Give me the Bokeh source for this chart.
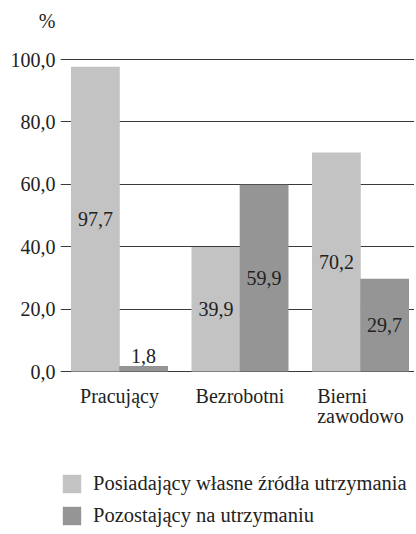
from bokeh.plotting import figure
from bokeh.models import ColumnDataSource, Range1d, FixedTicker, Legend, LegendItem, LabelSet
from bokeh.embed import file_html
from bokeh.resources import INLINE

categories = ["Pracujący", "Bezrobotni", "Bierni\nzawodowo"]
series_names = ["Posiadający własne źródła utrzymania", "Pozostający na utrzymaniu"]
own_income = [97.7, 39.9, 70.2]
dependent = [1.8, 59.9, 29.7]
y_ticks = [0, 20, 40, 60, 80, 100]
y_tick_labels = ["0,0", "20,0", "40,0", "60,0", "80,0", "100,0"]
unit_label = "%"
unit_pos = 112.5
y_bottom = -50.3

LIGHT = "#c3c3c3"
DARK = "#959595"
FONT = "Liberation Serif"
FS = "20px"
TXT = "#222222"

xs = list(range(len(categories)))

def fmt(v):
    return f"{v:.1f}".replace(".", ",")

def label_y(v):
    return v / 2 if v > 10 else v

def label_off(v):
    return 0 if v > 10 else 3

def label_base(v):
    return "middle" if v > 10 else "bottom"

def make_src(dx, vals):
    return ColumnDataSource(dict(
        x=[i + dx for i in xs], top=vals,
        ly=[label_y(v) for v in vals], off=[label_off(v) for v in vals],
        base=[label_base(v) for v in vals],
        txt=[fmt(v) for v in vals]))

src1 = make_src(-0.2, own_income)
src2 = make_src(0.2, dependent)
cat_src = ColumnDataSource(dict(x=xs, y=[0] * len(xs), txt=categories))

p = figure(width=414, height=528, frame_width=354, frame_height=508,
           output_backend="svg", toolbar_location=None, x_axis_location=None,
           x_range=Range1d(-0.4896, 2.4481), y_range=Range1d(y_bottom, unit_pos),
           min_border_left=60, min_border_right=0, min_border_top=20, min_border_bottom=0)
p.outline_line_color = None
p.background_fill_color = "white"

r1 = p.vbar(x="x", top="top", width=0.405, source=src1, fill_color=LIGHT, line_color=None)
r2 = p.vbar(x="x", top="top", width=0.405, source=src2, fill_color=DARK, line_color=None)

for src in (src1, src2):
    ls = LabelSet(x="x", y="ly", text="txt", source=src, y_offset="off",
                  text_align="center", text_baseline="base",
                  text_font=FONT, text_font_size=FS, text_color=TXT)
    p.add_layout(ls)

cats = LabelSet(x="x", y="y", text="txt", source=cat_src, y_offset=-13,
                text_align="center", text_baseline="top", text_line_height=0.95,
                text_font=FONT, text_font_size=FS, text_color=TXT)
p.add_layout(cats)

p.xgrid.grid_line_color = None
p.ygrid.grid_line_color = "#3a3a3a"
p.ygrid.grid_line_width = 1
p.ygrid.ticker = FixedTicker(ticks=y_ticks)

p.yaxis.ticker = FixedTicker(ticks=y_ticks + [unit_pos])
overrides = {t: l for t, l in zip(y_ticks, y_tick_labels)}
overrides[unit_pos] = unit_label
p.yaxis.major_label_overrides = overrides
p.yaxis.axis_line_color = None
p.yaxis.major_tick_in = 0
p.yaxis.major_tick_out = 0
p.yaxis.major_tick_line_color = None
p.yaxis.minor_tick_line_color = None
p.yaxis.major_label_standoff = 5
p.yaxis.major_label_text_font = FONT
p.yaxis.major_label_text_font_size = FS
p.yaxis.major_label_text_color = TXT

legend = Legend(items=[LegendItem(label=series_names[0], renderers=[r1]),
                       LegendItem(label=series_names[1], renderers=[r2])],
                location=(0, 1), orientation="vertical", ncols=1,
                glyph_width=23, glyph_height=23, label_standoff=10, spacing=9,
                label_text_font=FONT, label_text_font_size="20.5px", label_text_color=TXT,
                border_line_color=None, background_fill_alpha=0, padding=0, margin=0)
p.add_layout(legend)

open("out.html", "w").write(file_html(p, INLINE))
